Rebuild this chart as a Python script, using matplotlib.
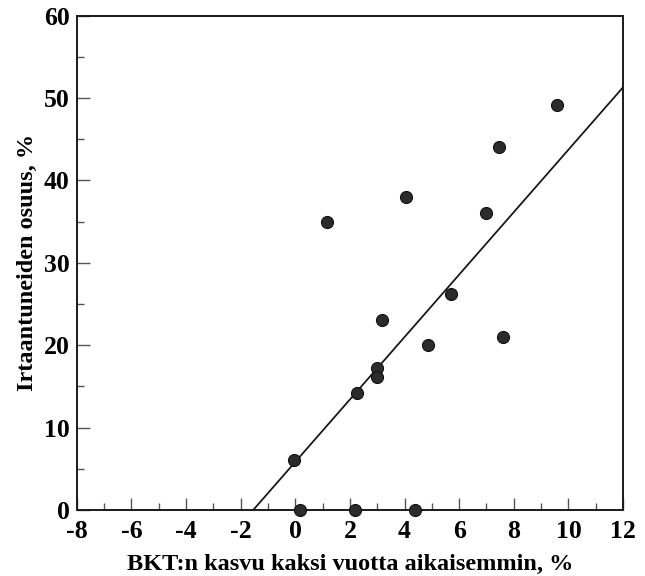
import numpy as np
import matplotlib.pyplot as plt
from matplotlib.ticker import MultipleLocator

# data
gdp_growth = [-0.03, 0.17, 2.2, 4.4, 2.26, 2.98, 2.98, 3.16, 1.15, 4.05,
              4.87, 5.69, 6.98, 7.47, 7.59, 9.58]
share = [6.1, 0.0, 0.0, 0.0, 14.2, 17.2, 16.1, 23.0, 35.0, 38.0,
         20.0, 26.2, 36.1, 44.1, 21.0, 49.2]

# fitted line endpoints
fit_x = [-1.54, 12.0]
fit_y = [0.0, 51.3]

plt.rcParams['font.family'] = ['Liberation Serif', 'DejaVu Serif']
plt.rcParams['font.weight'] = 'bold'
plt.rcParams['axes.unicode_minus'] = False

fig = plt.figure(figsize=(6.45, 5.76), dpi=100)
ax = fig.add_axes([0.119, 0.1146, 0.847, 0.8584])

ax.plot(fit_x, fit_y, color='#1a1a1a', lw=1.3)
ax.scatter(gdp_growth, share, s=75, facecolor='#2b2b2b', edgecolor='#111111',
           linewidth=0.8, zorder=3, clip_on=False)

ax.set_xlim(-8, 12)
ax.set_ylim(0, 60)
ax.xaxis.set_major_locator(MultipleLocator(2))
ax.xaxis.set_minor_locator(MultipleLocator(1))
ax.yaxis.set_major_locator(MultipleLocator(10))
ax.yaxis.set_minor_locator(MultipleLocator(5))
ax.tick_params(which='both', direction='in', color='#555555', width=1)
ax.tick_params(which='major', length=9, labelsize=18.5, pad=5)
ax.tick_params(axis='x', which='major', pad=7)
ax.tick_params(which='minor', length=5)
for lbl in ax.get_xticklabels() + ax.get_yticklabels():
    lbl.set_fontweight('bold')
for s in ax.spines.values():
    s.set_linewidth(1.4)
    s.set_color('#1a1a1a')

ax.set_xlabel('BKT:n kasvu kaksi vuotta aikaisemmin, %', fontsize=17.5,
              fontweight='bold', labelpad=8)
ax.set_ylabel('Irtaantuneiden osuus, %', fontsize=17.5, fontweight='bold',
              labelpad=4)

fig.savefig('out.png', dpi=100)
